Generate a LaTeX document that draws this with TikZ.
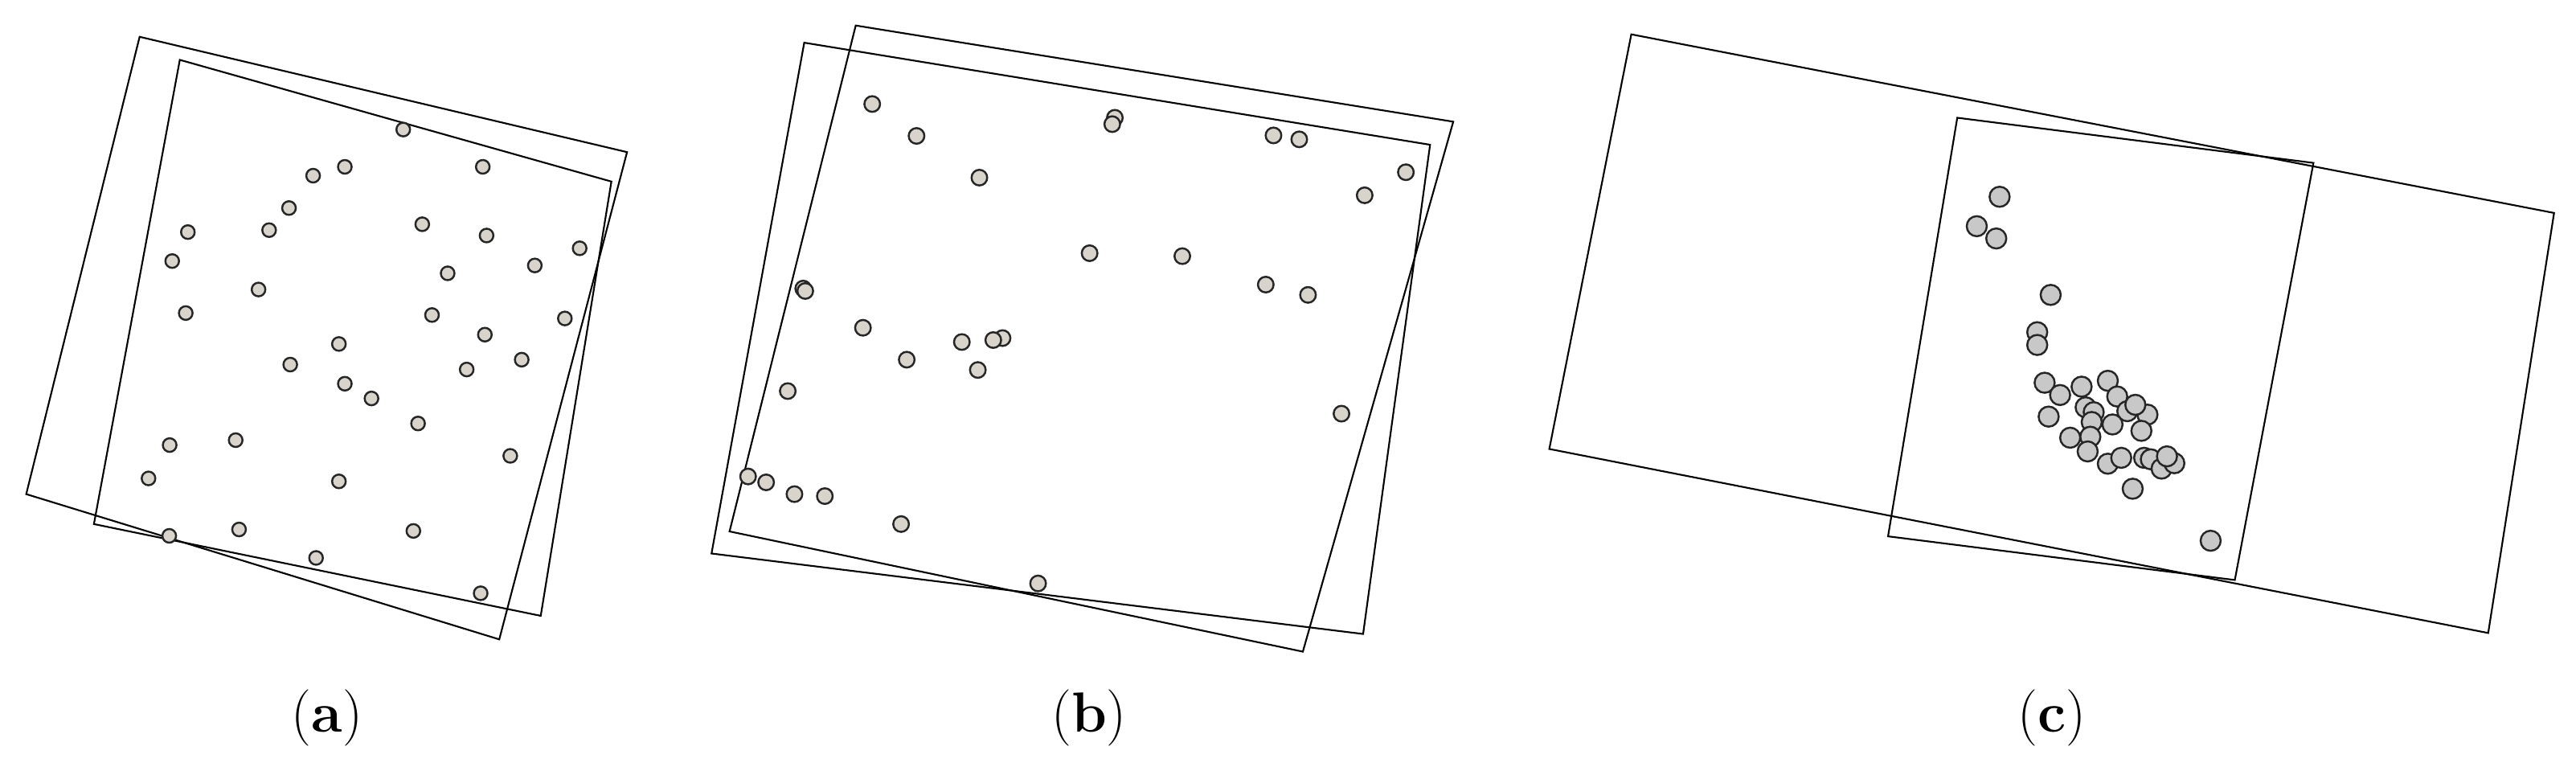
\documentclass[tikz,border=0pt]{standalone}
\begin{document}
\begin{tikzpicture}[
  frame/.style={draw=black,line width=0.6pt,line join=miter},
  dotA/.style={circle,draw=black!85,fill=dotbeige,line width=0.7pt,inner sep=0pt,minimum size=0.17cm},
  dotB/.style={circle,draw=black!85,fill=dotbeige,line width=0.7pt,inner sep=0pt,minimum size=0.195cm},
  dotC/.style={circle,draw=black!85,fill=dotgray,line width=0.7pt,inner sep=0pt,minimum size=0.25cm},
  lab/.style={font=\fontsize{20}{24}\selectfont,inner sep=0pt}
]
\definecolor{dotbeige}{RGB}{216,212,204}
\definecolor{dotgray}{RGB}{200,200,200}
\useasboundingbox (0,0) rectangle (32.05,-9.59);
% panel a
\begin{scope}[x=0.005258cm,y=-0.006098cm]
  \coordinate (a1) at (330,75); \coordinate (a2) at (1482,310);
  \coordinate (a3) at (1180,1303); \coordinate (a4) at (62,1007);
  \coordinate (a5) at (425,122); \coordinate (a6) at (1445,370);
  \coordinate (a7) at (1278,1255); \coordinate (a8) at (222,1068);
  \draw[frame] (a1)--(a2)--(a3)--(a4)--cycle;
  \draw[frame] (a5)--(a6)--(a7)--(a8)--cycle;
  \foreach \p [count=\i] in {(953,264),(815,340),(740,358),(1141,340),(683,424),(444,473),(636,469),(998,457),(1150,480),(1370,506),(407,532),(1264,541),(1058,557),(611,590),(439,638),(1021,642),(1335,649),(1146,682),(801,701),(686,743),(1233,733),(1103,753),(815,782),(878,812),(988,863),(401,907),(557,897),(1206,929),(351,975),(801,981),(400,1092),(565,1079),(977,1082),(747,1137),(1136,1209)}
    \node[dotA] (pa\i) at \p {};
\end{scope}
\node[lab] (la) at (4.07,-8.93) {(\textbf{a})};
% panel b
\begin{scope}[shift={(8.5,0)},x=0.00641cm,y=-0.006098cm]
  \coordinate (b1) at (235,87); \coordinate (b2) at (1450,295);
  \coordinate (b3) at (1320,1292); \coordinate (b4) at (55,1128);
  \coordinate (b5) at (335,52); \coordinate (b6) at (1495,248);
  \coordinate (b7) at (1203,1328); \coordinate (b8) at (90,1083);
  \draw[frame] (b1)--(b2)--(b3)--(b4)--cycle;
  \draw[frame] (b5)--(b6)--(b7)--(b8)--cycle;
  \foreach \p [count=\i] in {(367,212),(453,277),(838,240),(833,253),(1146,276),(1196,284),(575,362),(1403,351),(1323,398),(789,516),(969,522),(1131,580),(1213,601),(233,588),(237,593),(349,668),(541,697),(620,689),(602,693),(434,733),(572,754),(203,797),(1278,843),(126,971),(161,983),(216,1007),(275,1011),(423,1068),(689,1189)}
    \node[dotB] (pb\i) at \p {};
\end{scope}
\node[lab] (lb) at (13.55,-8.93) {(\textbf{b})};
% panel c
\begin{scope}[shift={(19,0)},x=0.008368cm,y=-0.006098cm]
  \coordinate (c1) at (155,70); \coordinate (c2) at (1528,434);
  \coordinate (c3) at (1430,1290); \coordinate (c4) at (33,915);
  \coordinate (c5) at (640,240); \coordinate (c6) at (1170,332);
  \coordinate (c7) at (1053,1182); \coordinate (c8) at (537,1093);
  \draw[frame] (c1)--(c2)--(c3)--(c4)--cycle;
  \draw[frame] (c5)--(c6)--(c7)--(c8)--cycle;
  \foreach \p [count=\i] in {(703,401),(669,461),(698,486),(779,601),(759,677),(759,703),(770,780),(793,805),(825,788),(864,776),(878,808),(923,845),(893,838),(905,825),(831,830),(843,840),(840,860),(776,849),(871,865),(914,878),(808,892),(838,890),(834,920),(864,945),(884,933),(918,933),(928,936),(944,955),(963,944),(952,930),(901,996),(1017,1102)}
    \node[dotC] (pc\i) at \p {};
\end{scope}
\node[lab] (lc) at (25.53,-8.93) {(\textbf{c})};
\end{tikzpicture}
\end{document}
